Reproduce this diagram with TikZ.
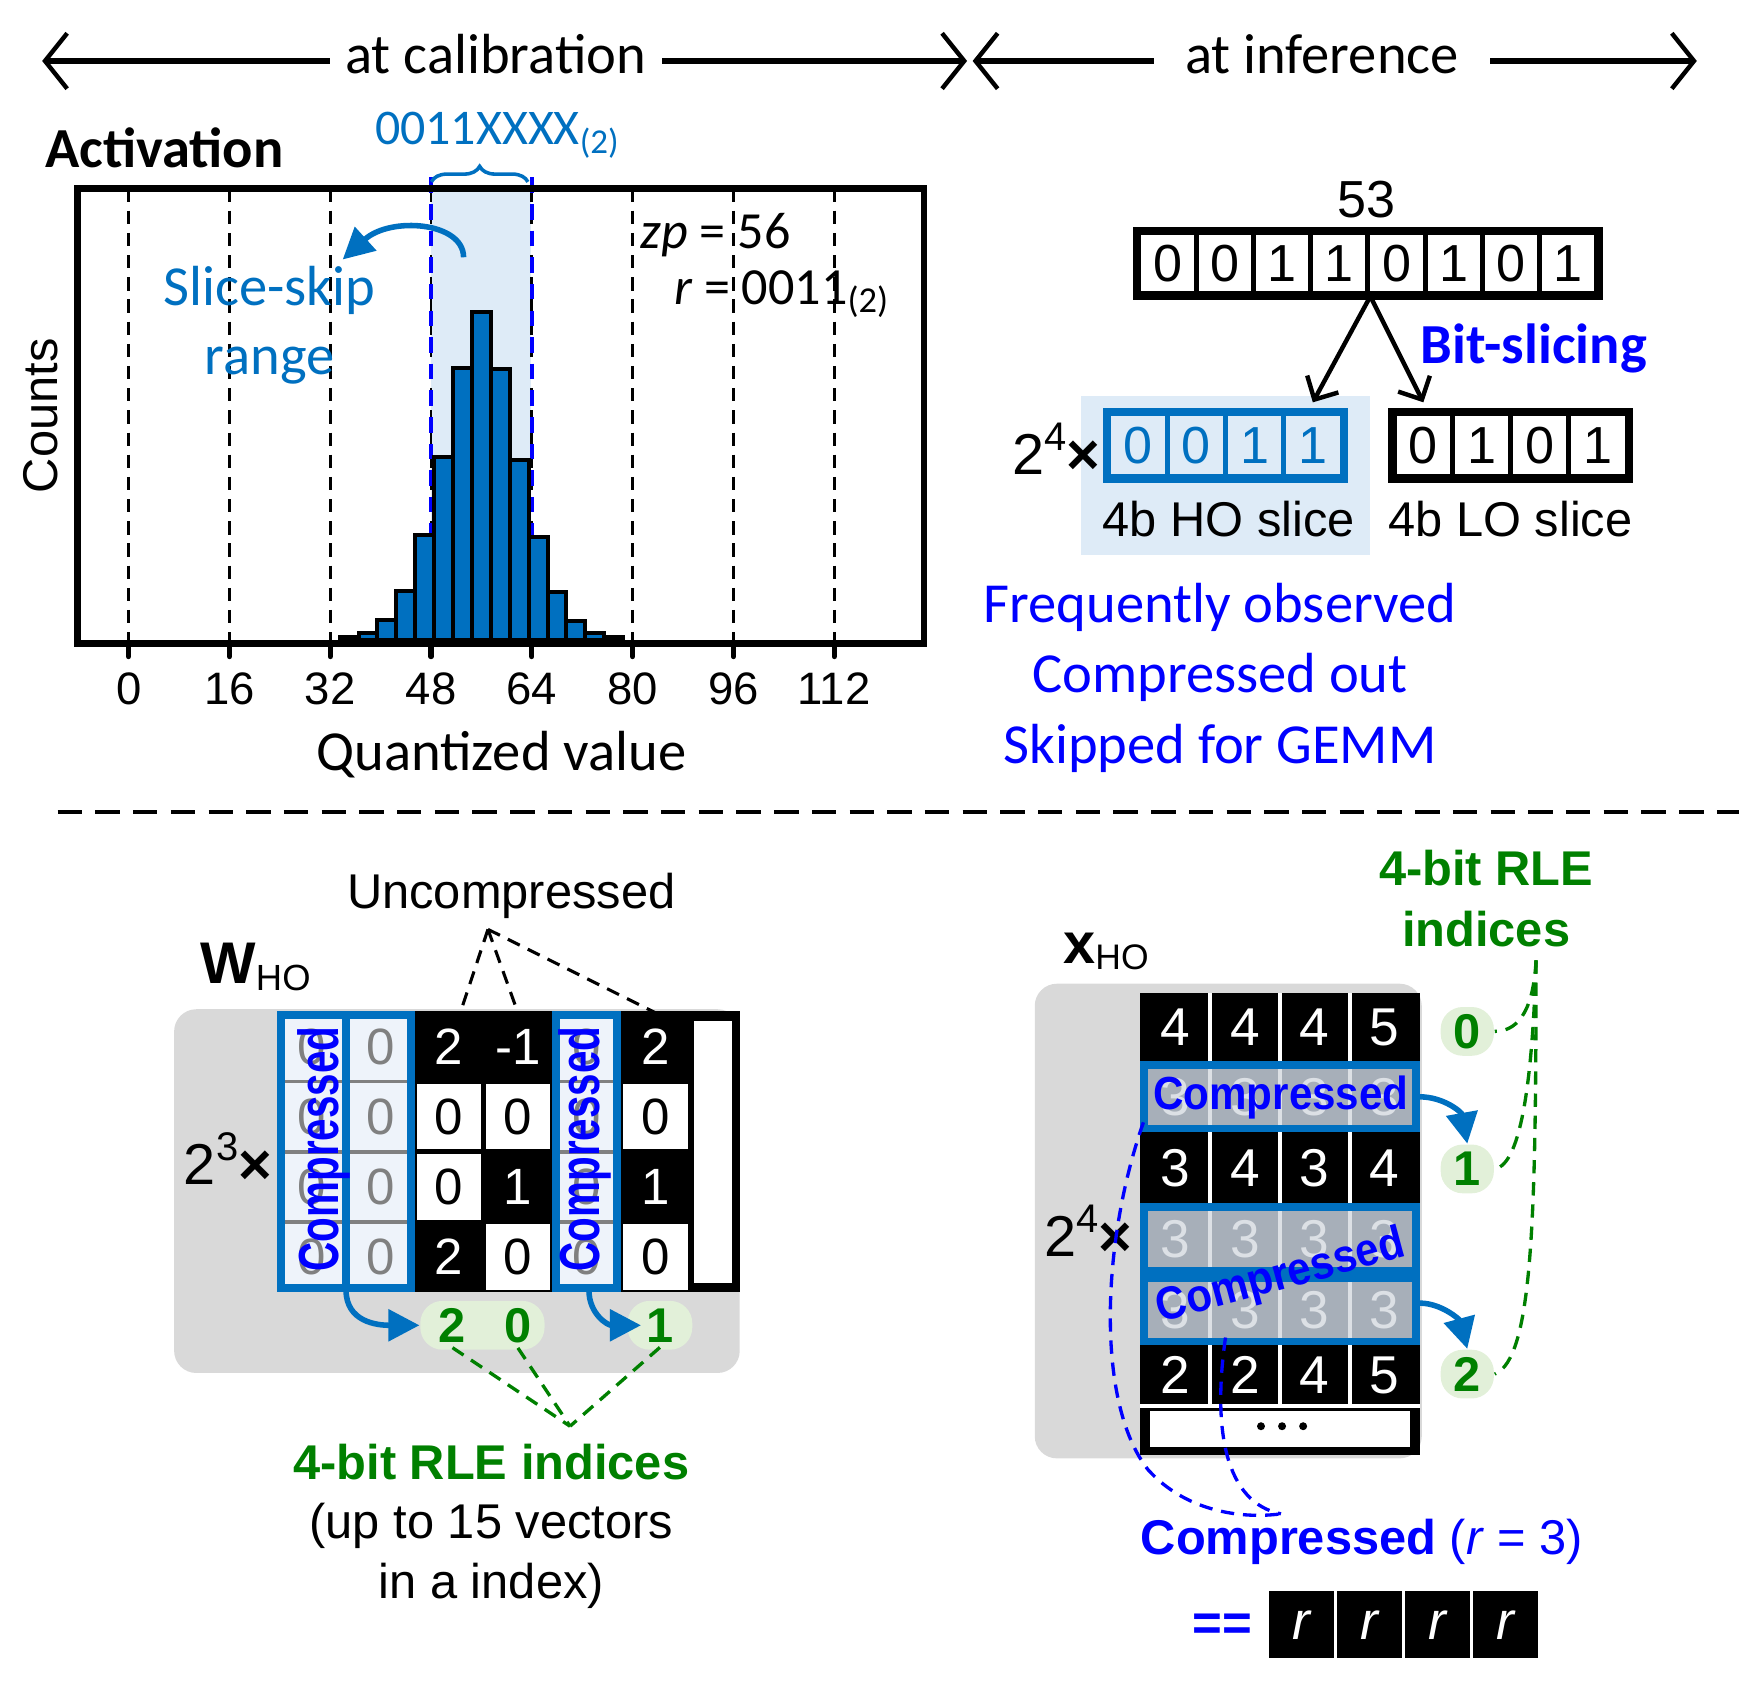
\documentclass[tikz,border=0pt]{standalone}
\usepackage{fontspec}
\setmainfont{Liberation Sans}
\newfontfamily\carlitofont{Carlito}
\usetikzlibrary{arrows.meta,decorations.pathreplacing,positioning}

\definecolor{medblue}{HTML}{0070C0}
\definecolor{pureblue}{HTML}{0000FF}
\definecolor{shadeblue}{HTML}{DEEBF7}
\definecolor{bggray}{HTML}{D9D9D9}
\definecolor{idxfill}{HTML}{E2F0D9}
\definecolor{rlegreen}{HTML}{008000}
\definecolor{compcell}{HTML}{EEF3FA}
\definecolor{compgray}{HTML}{808080}
\definecolor{xcompfill}{HTML}{A7AFB9}
\definecolor{xcomplite}{HTML}{DCE0E5}

\tikzset{
  cal/.style={font=\carlitofont\fontsize{12.75}{15.5}\selectfont},
  calbf/.style={font=\carlitofont\bfseries\fontsize{12.75}{15.5}\selectfont},
  calsm/.style={font=\carlitofont\fontsize{11.75}{14}\selectfont},
  ari/.style={font=\fontsize{11}{13.4}\selectfont},
  ticklab/.style={font=\fontsize{10.25}{12}\selectfont},
  toparrow/.style={line width=1.5pt,
    {Straight Barb[length=5pt,width=12.5pt,line width=1pt]}-{Straight Barb[length=5pt,width=12.5pt,line width=1pt]}},
  gaplabel/.style={cal, fill=white, inner ysep=1pt},
  griddash/.style={line width=0.6pt, dash pattern=on 3pt off 2pt},
  rangedash/.style={pureblue, line width=1pt, dash pattern=on 3.5pt off 2.5pt},
  tickmark/.style={line width=1.2pt, line cap=round},
  bar/.style={fill=medblue, draw=black, line width=0.9pt},
  skiparrow/.style={medblue, line width=1.25pt, -{Triangle[length=7pt,width=7pt]}},
  slicearrow/.style={line width=1pt, -{Straight Barb[length=4pt,width=8pt]}},
  bitcell/.style={draw, line width=1.1pt, minimum width=12.9pt, minimum height=13.75pt,
    inner sep=0pt, font=\fontsize{11.75}{14}\selectfont},
  locell/.style={bitcell, minimum width=13.125pt, minimum height=14.25pt},
  hocell/.style={locell, draw=medblue, text=medblue},
  middash/.style={line width=1pt, dash pattern=on 5.5pt off 3pt},
  uncdash/.style={line width=0.7pt, dash pattern=on 3pt off 2pt},
  rledash/.style={rlegreen, line width=0.75pt, dash pattern=on 3pt off 2pt},
  compdash/.style={pureblue, line width=0.75pt, dash pattern=on 3pt off 2pt},
  whitecell/.style={fill=white, minimum width=14.5pt, minimum height=14.8pt,
    inner sep=0pt, font=\fontsize{11.5}{13}\selectfont},
  blackcell/.style={whitecell, fill=none, text=white},
  compzero/.style={text=compgray, inner sep=0pt, font=\fontsize{11.5}{13}\selectfont},
  compborder/.style={draw=medblue, line width=1.75pt},
  compword/.style={text=pureblue, inner sep=0pt, font=\bfseries\fontsize{9.4}{11}\selectfont},
  xcell/.style={text=white, inner sep=0pt, font=\fontsize{12}{14}\selectfont},
  xcompcell/.style={xcell, text=xcomplite},
  idxbox/.style={fill=idxfill, rounded corners=5pt, minimum height=11pt, inner sep=0pt,
    text=rlegreen, font=\bfseries\fontsize{11}{13}\selectfont},
  idxdigit/.style={text=rlegreen, inner sep=1pt, font=\bfseries\fontsize{11}{13}\selectfont},
  rcell/.style={fill=black, draw=white, line width=0.8pt, minimum width=15.3pt,
    minimum height=16pt, inner sep=0pt, text=white, font=\itshape\fontsize{12}{14}\selectfont}
}

\begin{document}
\begin{tikzpicture}[x=0.25pt,y=-0.25pt]
\useasboundingbox (0,0) rectangle (1568,1515);

% time line
\coordinate (calL) at (38,55);
\coordinate (calR) at (872,55);
\coordinate (infL) at (877,55);
\coordinate (infR) at (1530,55);
\draw[toparrow] (calL) -- (calR);
\draw[toparrow] (infL) -- (infR);
\node[gaplabel, anchor=base, inner xsep=3.5pt] (calib) at (447,66) {at calibration};
\node[gaplabel, anchor=base, inner xsep=7pt] (infer) at (1192,66) {at inference};

% histogram
\node[calbf, anchor=west, inner sep=0pt] (act) at (40,133) {Activation};
\fill[shadeblue] (389,170) rectangle (479,577);
\foreach \v in {0,16,...,112} {
  \draw[griddash] ({116+5.68*\v},170) -- ({116+5.68*\v},577);
  \draw[tickmark] ({116+5.68*\v},581) -- ({116+5.68*\v},592);
  \node[ticklab] (tick\v) at ({116+5.68*\v},621) {\v};
}
\draw[rangedash] (388.6,160) -- (388.6,577);
\draw[rangedash] (479.5,160) -- (479.5,577);
\foreach \k/\h in {-7/3,-6/6,-5/18,-4/44,-3/95,-2/165,-1/245,0/296,1/244,2/162,3/93,4/43,5/17,6/6,7/3}
  \draw[bar] ({116+5.68*(54.5+3*\k)},577) rectangle ++(17.04,-\h);
\draw[line width=1.5pt] (70,170) rectangle (833,580);
\draw[medblue, line width=0.8pt, decorate, decoration={brace,amplitude=3.5pt}] (389,164) -- (476,164);
\node[calsm, text=medblue, font=\carlitofont\fontsize{11.25}{13}\selectfont] (range) at (449,122) {0011XXXX\textsubscript{(2)}};
\coordinate (skipA) at (418,232);
\coordinate (skipB) at (309,234);
\draw[skiparrow] (skipA) .. controls (418,200) and (352,195) .. (skipB);
\node[cal, text=medblue, align=center] (skiptext) at (243,293) {Slice-skip\\range};
\node[calsm, anchor=west, inner sep=0pt] (zp) at (577,212) {\textit{zp} = 56};
\node[calsm, anchor=west, inner sep=0pt] (rval) at (607,265) {\textit{r} = 0011\textsubscript{(2)}};
\node[ari, rotate=90] (counts) at (37,375) {Counts};
\node[cal] (qval) at (452,680) {Quantized value};

% bit slicing
\node[font=\fontsize{11.75}{14}\selectfont] (num) at (1232,180) {53};
\foreach \b [count=\i from 0] in {0,0,1,1,0,1,0,1}
  \node[bitcell] (b\i) at ({1052.8+51.6*\i},237.5) {\b};
\draw[line width=1.5pt] (b0.north west) rectangle (b7.south east);
\fill[shadeblue] (975,357) rectangle (1235,500);
\foreach \b [count=\i from 0] in {0,0,1,1}
  \node[hocell] (ho\i) at ({1026.25+52.5*\i},401.5) {\b};
\draw[medblue, line width=1.5pt] (ho0.north west) rectangle (ho3.south east);
\foreach \b [count=\i from 0] in {0,1,0,1}
  \node[locell] (lo\i) at ({1283.4+52.5*\i},401.5) {\b};
\draw[line width=1.5pt] (lo0.north west) rectangle (lo3.south east);
\draw[slicearrow] (b3.south east) -- ([yshift=2pt]ho3.north);
\draw[slicearrow] (b3.south east) -- ([yshift=2pt]lo0.north);
\node[calbf, text=pureblue] (slicing) at (1383,314) {Bit-slicing};
\node[anchor=east, inner sep=0pt, font=\fontsize{13}{15}\selectfont] (hoscale) at (993,405)
  {2\raisebox{0.42em}{\fontsize{9}{9}\selectfont 4}\textbf{×}};
\node[ari] (holabel) at (1108,468) {4b HO slice};
\node[ari] (lolabel) at (1362,468) {4b LO slice};
\node[cal, text=pureblue, align=center, font=\carlitofont\fontsize{12.75}{15.9}\selectfont] (freq) at (1100,611)
  {Frequently observed\\Compressed out\\Skipped for GEMM};

\draw[middash] (52,732) -- (1568,732);

% weight slices
\node[ari] (unc) at (461,808) {Uncompressed};
\node[anchor=west, inner sep=0pt, font=\fontsize{13.25}{15}\selectfont] (wname) at (180,872)
  {\textbf{W}\raisebox{-1.5pt}{\fontsize{8.2}{9}\selectfont HO}};
\fill[bggray, rounded corners=5pt] (157,910) rectangle (667,1238);
\fill[black] (250,912) rectangle (667,1165);
\foreach \cc/\cx/\vals in {3/405/{blackcell/2,whitecell/0,whitecell/0,blackcell/2},
                          4/467/{blackcell/-1,whitecell/0,blackcell/1,whitecell/0},
                          6/591/{blackcell/2,whitecell/0,blackcell/1,whitecell/0}}
  \foreach \t/\v [count=\r from 0] in \vals
    \node[\t] (w\cc-\r) at (\cx,{943.6+63.25*\r}) {\v};
\foreach \cc/\cx in {1/281,2/343,5/529} {
  \fill[compcell] ({\cx-31},912) rectangle ({\cx+31},1165);
  \foreach \r in {1,2,3}
    \draw[compgray, line width=0.8pt] ({\cx-31},{912+63.25*\r}) -- ({\cx+31},{912+63.25*\r});
  \foreach \r in {0,...,3}
    \node[compzero] (w\cc-\r) at (\cx,{943.6+63.25*\r}) {0};
}
\draw[compborder] (253.5,915.5) rectangle (370.5,1161.5);
\draw[compborder] (312,915.5) -- (312,1161.5);
\draw[compborder] (501.5,915.5) rectangle (556.5,1161.5);
\fill[white] (626,921) rectangle (660,1157);
\node[compword, font=\bfseries\fontsize{9.1}{11}\selectfont, rotate=90, yscale=1.4] (wcompA) at (292,1036) {Compressed};
\node[compword, font=\bfseries\fontsize{9.1}{11}\selectfont, rotate=90, yscale=1.4] (wcompB) at (527,1036) {Compressed};
\node[anchor=east, inner sep=0pt, font=\fontsize{13}{15}\selectfont] (wscale) at (246,1045)
  {2\raisebox{0.42em}{\fontsize{9}{9}\selectfont 3}\textbf{×}};
\coordinate (uncfoot) at (440,838);
\draw[uncdash] (uncfoot) -- ([xshift=2.5pt]w3-0.north);
\draw[uncdash] (uncfoot) -- (w4-0.north);
\draw[uncdash] (uncfoot) -- (w6-0.north);
\node[idxbox, minimum width=28pt] (wib1) at (435,1195) {};
\node[idxbox, minimum width=14.6pt] (wib2) at (595,1195) {};
\node[idxdigit] (wd2) at (408,1195) {2};
\node[idxdigit] (wd0) at (467,1195) {0};
\node[idxdigit] (wd1) at (595,1195) {1};
\coordinate (wa1) at (312,1163);
\coordinate (wa2) at (531,1163);
\draw[skiparrow] (wa1) .. controls (312,1192) and (340,1195) .. (wib1.west);
\draw[skiparrow] (wa2) .. controls (531,1185) and (548,1195) .. (wd1.west);
\coordinate (wmeet) at (514,1286);
\draw[rledash] (wd2.south) -- (wmeet);
\draw[rledash] (wd0.south) -- (wmeet);
\draw[rledash] (wd1.south) -- (wmeet);
\node[ari, align=center] (wnote) at (443,1376)
  {\textbf{\textcolor{rlegreen}{4-bit RLE indices}}\\(up to 15 vectors\\in a index)};

% activation slices
\node[ari, align=center, text=rlegreen, font=\bfseries\fontsize{11}{13.75}\selectfont] (xrle) at (1340,810)
  {4-bit RLE\\indices};
\node[anchor=west, inner sep=0pt, font=\fontsize{13}{15}\selectfont] (xname) at (958,858)
  {\textbf{x}\raisebox{-1.5pt}{\fontsize{8}{9}\selectfont HO}};
\fill[bggray, rounded corners=5pt] (933,887) rectangle (1282,1315);
\fill[black] (1028,895) rectangle (1280,1312);
\foreach \sx in {1091,1154,1217}
  \draw[white, line width=1pt] (\sx,895) -- (\sx,1268);
\foreach \rr/\cy/\vals in {1/926/{4,4,4,5}, 3/1053/{3,4,3,4}, 6/1240/{2,2,4,5}}
  \foreach \v [count=\c from 0] in \vals
    \node[xcell] (x\rr-\c) at ({1059.5+63*\c},\cy) {\v};
\foreach \rr/\ya/\yb in {2/957/1021, 4/1085/1149, 5/1149/1213} {
  \fill[xcompfill] (1028,\ya) rectangle (1280,\yb);
  \foreach \sx in {1091,1154,1217}
    \draw[xcomplite, line width=1pt] (\sx,\ya) -- (\sx,\yb);
  \foreach \c in {0,...,3}
    \node[xcompcell] (x\rr-\c) at ({1059.5+63*\c},{(\ya+\yb)/2}) {3};
  \draw[compborder] (1031.5,{\ya+3.5}) rectangle (1276.5,{\yb-3.5});
}
\draw[white, line width=1pt] (1028,1268) -- (1280,1268);
\fill[white] (1037,1272) rectangle (1271,1305);
\foreach \dx in {1137,1156,1175}
  \fill (\dx,1286) circle [radius=0.9pt];
\node[compword, font=\bfseries\fontsize{9.5}{11}\selectfont, yscale=1.1] (xcompA) at (1155,990) {Compressed};
\node[compword, font=\bfseries\fontsize{9.5}{11}\selectfont, rotate=15, yscale=1.1] (xcompB) at (1155,1152) {Compressed};
\node[anchor=east, inner sep=0pt, font=\fontsize{13}{15}\selectfont] (xscale) at (1022,1110)
  {2\raisebox{0.42em}{\fontsize{9}{9}\selectfont 4}\textbf{×}};
\node[idxbox, minimum width=12pt] (xi0) at (1323,930) {0};
\node[idxbox, minimum width=12pt] (xi1) at (1323,1054) {1};
\node[idxbox, minimum width=12pt] (xi2) at (1323,1239) {2};
\coordinate (xa1) at (1280,989);
\coordinate (xa2) at (1280,1175);
\draw[skiparrow] (xa1) .. controls (1302,989) and (1318,1003) .. (xi1.north);
\draw[skiparrow] (xa2) .. controls (1300,1175) and (1316,1190) .. (xi2.north);
\coordinate (xrlefoot) at (1385,866);
\draw[rledash] (xrlefoot) .. controls (1383,905) and (1372,930) .. (xi0.east);
\draw[rledash] (xrlefoot) .. controls (1382,970) and (1372,1050) .. (xi1.east);
\draw[rledash] (xrlefoot) .. controls (1385,1100) and (1382,1225) .. (xi2.east);
\coordinate (xc1) at (1031,1012);
\coordinate (xc2) at (1105,1206);
\coordinate (xcfoot) at (1155,1365);
\draw[compdash] (xc1) .. controls (993,1120) and (988,1265) .. (1035,1325)
  .. controls (1068,1362) and (1118,1370) .. (xcfoot);
\draw[compdash] (xc2) .. controls (1093,1290) and (1105,1355) .. (xcfoot);
\node[ari, text=pureblue] (xcomplabel) at (1228,1390) {\textbf{Compressed} (\textit{r} = 3)};
\node[text=pureblue, font=\bfseries\fontsize{11.5}{13}\selectfont] (eqeq) at (1102,1467) {==};
\foreach \i in {0,...,3}
  \node[rcell] (rc\i) at ({1173.6+61.25*\i},1465) {r};
\end{tikzpicture}
\end{document}
